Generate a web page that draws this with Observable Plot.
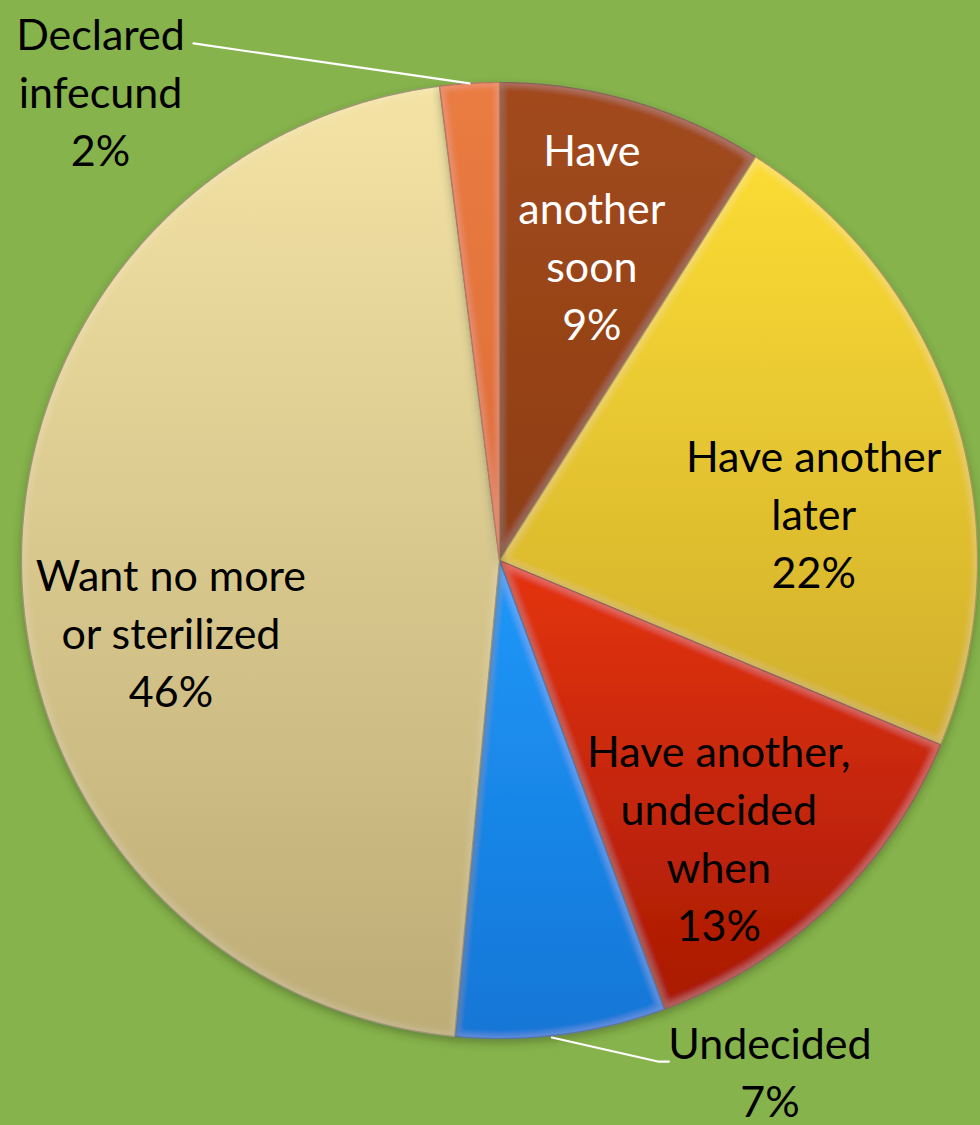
<!DOCTYPE html>
<html>
<head>
<meta charset="utf-8">
<script src="https://cdn.jsdelivr.net/npm/d3@7"></script>
<script src="https://cdn.jsdelivr.net/npm/@observablehq/plot@0.6"></script>
<style>
  html, body { margin: 0; padding: 0; background: #86B34C; }
  #chart svg { display: block; }
</style>
</head>
<body>
<div id="chart"></div>
<script>
// ---- data ----
const categories = [
  "Have another soon",
  "Have another later",
  "Have another, undecided when",
  "Undecided",
  "Want no more or sterilized",
  "Declared infecund"
];
const values = [9.0, 22.3, 13.1, 7.1, 46.5, 2.0];
const percentLabels = ["9%", "22%", "13%", "7%", "46%", "2%"];
const displayNames = [
  "Have\nanother\nsoon",
  "Have another\nlater",
  "Have another,\nundecided\nwhen",
  "Undecided",
  "Want no more\nor sterilized",
  "Declared\ninfecund"
];

// ---- style / layout ----
const topColors    = ["#A24A1C", "#FBDC34", "#E4340E", "#2098FA", "#F4E3A4", "#EA7C42"];
const bottomColors = ["#8E3E16", "#D0AE2C", "#A81A04", "#1276D6", "#BDAC76", "#DC6C36"];
const edgeColors   = ["#6E2C0C", "#9C8420", "#7E1404", "#0A4E96", "#8E7F58", "#A85226"];
const textColors   = ["white", "black", "black", "black", "black", "black"];
const outside      = [false, false, false, true, false, true];
// pixel nudges of label blocks relative to default anchor
const labelNudge = [[-1, -5], [-5, 51], [-12, 33], [209, 35], [6, 65], [-369, 6]];
// leader line pixel offsets from slice edge midpoint
const leaderPts = {3: [[-9, 3], [97, 27], [108, 27]], 5: [[0, 0], [-269, -39], [-276, -40]]};

const R = 478; // pixels per data unit (used to convert pixel offsets)
const pie = d3.pie().sort(null).value(d => d.value);
const table = categories.map((c, i) => ({
  category: c, value: values[i], name: displayNames[i], pct: percentLabels[i], i
}));
const arcs = pie(table);

// slice outlines
const slicePts = arcs.map(a => {
  const pts = [{x: 0, y: 0}];
  const n = Math.max(4, Math.ceil((a.endAngle - a.startAngle) / 0.005));
  for (let k = 0; k <= n; k++) {
    const t = a.startAngle + (a.endAngle - a.startAngle) * k / n;
    pts.push({x: Math.sin(t), y: Math.cos(t)});
  }
  return pts;
});

// label anchors
const labels = arcs.map((a, i) => {
  const mid = (a.startAngle + a.endAngle) / 2;
  const r = outside[i] ? 1 : 0.7;
  return {
    x: r * Math.sin(mid), y: r * Math.cos(mid),
    text: a.data.name + "\n" + a.data.pct,
    dx: labelNudge[i][0], dy: labelNudge[i][1],
    color: textColors[i]
  };
});

// leader lines
const leaders = [];
arcs.forEach((a, i) => {
  if (!leaderPts[i]) return;
  const mid = (a.startAngle + a.endAngle) / 2;
  const ex = Math.sin(mid), ey = Math.cos(mid);
  leaderPts[i].forEach(([px, py]) => leaders.push({k: i, x: ex + px / R, y: ey - py / R}));
});

const plot = Plot.plot({
  width: 980,
  height: 1125,
  margin: 0,
  x: {domain: [-1, 1], range: [21, 977], axis: null},
  y: {domain: [-1, 1], range: [1038, 82], axis: null},
  style: {background: "#86B34C", fontFamily: "Lato, 'Open Sans', sans-serif"},
  marks: [
    ...slicePts.map((pts, i) => Plot.line(pts, {
      x: "x", y: "y", curve: "linear-closed",
      fill: topColors[i],
      stroke: edgeColors[i], strokeWidth: 1.2,
      strokeLinejoin: "round"
    })),
    Plot.line(leaders, {x: "x", y: "y", z: "k", stroke: "white", strokeWidth: 2.2}),
    ...labels.map(l => Plot.text([l], {
      x: "x", y: "y", text: "text", dx: l.dx, dy: l.dy,
      fill: l.color, fontSize: 43, lineHeight: 1.35, lineAnchor: "middle",
      textAnchor: "middle"
    }))
  ]
});

// gradients, shadow and bevel definitions
const svg = d3.select(plot);
const defs = svg.insert("defs", ":first-child");
topColors.forEach((c, i) => {
  const g = defs.append("linearGradient")
    .attr("id", `grad${i}`)
    .attr("x1", 0).attr("x2", 0).attr("y1", 0).attr("y2", 1);
  g.append("stop").attr("offset", "0%").attr("stop-color", c);
  g.append("stop").attr("offset", "100%").attr("stop-color", bottomColors[i]);
});
const f = defs.append("filter").attr("id", "shadow")
  .attr("x", "-10%").attr("y", "-10%").attr("width", "120%").attr("height", "120%");
// inner light rim (bevel-like)
f.append("feMorphology").attr("in", "SourceAlpha").attr("operator", "erode").attr("radius", 4).attr("result", "er");
f.append("feGaussianBlur").attr("in", "er").attr("stdDeviation", 3).attr("result", "erb");
f.append("feComposite").attr("in", "SourceAlpha").attr("in2", "erb").attr("operator", "out").attr("result", "rim");
f.append("feFlood").attr("flood-color", "white").attr("flood-opacity", 0.12).attr("result", "wh");
f.append("feComposite").attr("in", "wh").attr("in2", "rim").attr("operator", "in").attr("result", "rimw");
f.append("feDropShadow").attr("in", "SourceGraphic").attr("dx", 0).attr("dy", 4).attr("stdDeviation", 4)
  .attr("flood-color", "#2e3c18").attr("flood-opacity", 0.4).attr("result", "sh");
const m = f.append("feMerge");
m.append("feMergeNode").attr("in", "sh");
m.append("feMergeNode").attr("in", "rimw");

const groups = plot.querySelectorAll("g[aria-label=line]");
for (let i = 0; i < slicePts.length; i++) {
  const g = d3.select(groups[i]);
  g.attr("fill", `url(#grad${i})`).attr("filter", "url(#shadow)");
  g.selectAll("path").attr("fill", `url(#grad${i})`);
}

document.getElementById("chart").appendChild(plot);
</script>
</body>
</html>
